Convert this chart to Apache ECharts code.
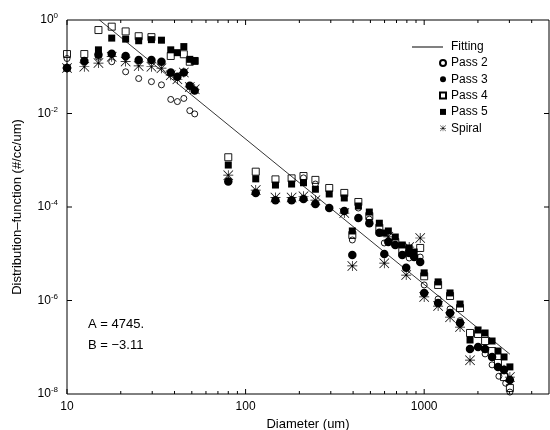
<!DOCTYPE html>
<html>
<head>
<meta charset="utf-8">
<script src="https://cdn.jsdelivr.net/npm/echarts@6/dist/echarts.min.js"></script>
<style>
  html, body { margin: 0; padding: 0; background: #fff; }
  #chart { width: 550px; height: 430px; }
</style>
</head>
<body>
<div id="chart"></div>
<script>
// axis ranges
var xMin = 10, xMax = 5000;
var yMin = 1e-8, yMax = 1;

// tick positions
var xMajorTicks = [10, 100, 1000];
var xMinorTicks = [20, 30, 40, 50, 60, 70, 80, 90, 200, 300, 400, 500, 600, 700, 800, 900, 2000, 3000, 4000];
var yMajorTicks = [1e-2, 1e-4, 1e-6];

// fitting line (A = 4745, B = -3.11), end points
var fitX = [15.2, 3020];
var fitY = [1.0, 7.1e-8];

// measured points
var pass2X = [10, 15, 17.8, 21.3, 25.2, 29.7, 33.8, 38.1, 41.5, 45.1, 48.7, 51.9,
  211, 246, 396, 428, 493, 598, 754, 824, 950, 1000, 1197, 1396, 1588, 2193, 2400, 2620, 2860, 3020];
var pass2Y = [0.15, 0.16, 0.128, 0.078, 0.056, 0.048, 0.041, 0.020, 0.018, 0.021, 0.0115, 0.0098,
  4.2e-4, 3.1e-4, 1.97e-5, 9.5e-5, 5.5e-5, 1.7e-5, 9.4e-6, 8.1e-6, 8.5e-6, 2.15e-6, 1.08e-6, 6.6e-7, 3.7e-7, 7.2e-8, 4.2e-8, 2.4e-8, 1.7e-8, 1.1e-8];

var pass3X = [10, 12.5, 15, 17.8, 21.3, 25.2, 29.7, 33.8, 38.1, 41.5, 45.1, 48.7, 51.9,
  80, 114, 147, 181, 211, 246, 294, 357, 396, 428, 493, 561, 598, 630, 689, 754, 793, 824, 879, 950,
  1000, 1197, 1396, 1588, 1806, 2003, 2193, 2400, 2590, 2800, 3020];
var pass3Y = [0.094, 0.133, 0.18, 0.19, 0.17, 0.14, 0.14, 0.128, 0.075, 0.061, 0.075, 0.039, 0.031,
  3.5e-4, 2.0e-4, 1.4e-4, 1.4e-4, 1.48e-4, 1.16e-4, 9.5e-5, 8.2e-5, 9.4e-6, 5.8e-5, 4.5e-5, 2.8e-5, 9.9e-6, 1.78e-5, 1.54e-5, 9.4e-6, 5.0e-6, 1.04e-5, 8.5e-6, 6.7e-6,
  1.45e-6, 8.8e-7, 5.4e-7, 3.3e-7, 9.2e-8, 1.01e-7, 9.2e-8, 6.2e-8, 3.8e-8, 3.3e-8, 2.0e-8];

var pass4X = [10, 12.5, 15, 17.8, 21.3, 25.2, 29.7, 38.1, 45.1, 48.7, 51.9,
  80, 114, 147, 181, 211, 246, 294, 357, 396, 428, 493, 561, 689, 754, 950,
  1000, 1197, 1396, 1588, 1806, 2003, 2193, 2400, 2590, 2800, 3020];
var pass4Y = [0.187, 0.187, 0.61, 0.72, 0.57, 0.45, 0.43, 0.17, 0.185, 0.128, 0.133,
  1.16e-3, 5.7e-4, 3.9e-4, 4.1e-4, 4.6e-4, 3.8e-4, 2.55e-4, 2.0e-4, 2.52e-5, 1.28e-4, 6.4e-5, 3.6e-5, 1.78e-5, 1.2e-5, 1.33e-5,
  3.3e-6, 2.15e-6, 1.25e-6, 6.9e-7, 2.02e-7, 1.92e-7, 1.36e-7, 8.3e-8, 4.6e-8, 2.3e-8, 1.34e-8];

var pass5X = [10, 15, 17.8, 21.3, 25.2, 29.7, 33.8, 38.1, 41.5, 45.1, 48.7, 51.9,
  80, 114, 147, 181, 211, 246, 294, 357, 396, 428, 493, 561, 598, 630, 689, 754, 824, 879,
  1000, 1197, 1396, 1588, 1806, 2003, 2193, 2400, 2590, 2800, 3020];
var pass5Y = [0.094, 0.23, 0.41, 0.39, 0.36, 0.38, 0.37, 0.23, 0.2, 0.27, 0.144, 0.135,
  7.9e-4, 4.0e-4, 2.95e-4, 3.1e-4, 3.3e-4, 2.4e-4, 1.9e-4, 1.56e-4, 3.07e-5, 1.05e-4, 7.8e-5, 4.5e-5, 2.78e-5, 3.07e-5, 2.28e-5, 1.54e-5, 1.33e-5, 1.09e-5,
  3.9e-6, 2.5e-6, 1.45e-6, 8.4e-7, 1.43e-7, 2.34e-7, 2.02e-7, 1.36e-7, 8.3e-8, 6.2e-8, 3.8e-8];

var spiralX = [10, 12.5, 15, 17.8, 21.3, 25.2, 29.7, 33.8, 38.1, 41.5, 45.1, 48.7, 51.9,
  80, 114, 147, 181, 211, 246, 357, 396, 598, 630, 793, 824, 950,
  1000, 1197, 1396, 1588, 1806, 2800, 3020];
var spiralY = [0.094, 0.1, 0.12, 0.164, 0.13, 0.104, 0.1, 0.093, 0.066, 0.054, 0.075, 0.037, 0.033,
  4.8e-4, 2.3e-4, 1.6e-4, 1.6e-4, 1.7e-4, 1.4e-4, 7.4e-5, 5.5e-6, 6.3e-6, 2.3e-5, 3.5e-6, 1.39e-5, 2.17e-5,
  1.19e-6, 7.6e-7, 4.4e-7, 2.7e-7, 5.3e-8, 3.3e-8, 2.3e-8];

var font = '"Liberation Sans", Arial, Helvetica, sans-serif';
var asterisk = 'path://M0 9.3H20V10.7H0Z M9.3 0H10.7V20H9.3Z M1 0L20 19L19 20L0 1Z M19 0L20 1L1 20L0 19Z';

function zip(xs, ys) {
  var out = [];
  for (var i = 0; i < xs.length; i++) out.push([xs[i], ys[i]]);
  return out;
}

function scatter(name, xs, ys, symbol, size, filled) {
  return {
    name: name,
    type: 'scatter',
    data: zip(xs, ys),
    symbol: symbol,
    symbolSize: size,
    itemStyle: filled
      ? { color: '#000', opacity: 1 }
      : { color: 'rgba(255,255,255,0)', borderColor: '#000', borderWidth: 0.9, opacity: 1 },
    emphasis: { disabled: true }
  };
}

// ticks drawn inward on both sides of the box
function xTicks(vals, len) {
  return {
    type: 'custom', silent: true, z: 1,
    data: vals.map(function (v) { return [v, yMin]; }),
    renderItem: function (params, api) {
      var b = api.coord([api.value(0), yMin]);
      var t = api.coord([api.value(0), yMax]);
      var st = { stroke: '#000', lineWidth: 1 };
      return { type: 'group', children: [
        { type: 'line', shape: { x1: b[0], y1: b[1], x2: b[0], y2: b[1] - len }, style: st },
        { type: 'line', shape: { x1: t[0], y1: t[1], x2: t[0], y2: t[1] + len }, style: st }
      ] };
    }
  };
}
function yTicks(vals, len) {
  return {
    type: 'custom', silent: true, z: 1,
    data: vals.map(function (v) { return [xMin, v]; }),
    renderItem: function (params, api) {
      var l = api.coord([xMin, api.value(1)]);
      var r = api.coord([xMax, api.value(1)]);
      var st = { stroke: '#000', lineWidth: 1 };
      return { type: 'group', children: [
        { type: 'line', shape: { x1: l[0], y1: l[1], x2: l[0] + len, y2: l[1] }, style: st },
        { type: 'line', shape: { x1: r[0], y1: r[1], x2: r[0] - len, y2: r[1] }, style: st }
      ] };
    }
  };
}

var chart = echarts.init(document.getElementById('chart'));
chart.setOption({
  animation: false,
  backgroundColor: '#fff',
  textStyle: { fontFamily: font },
  grid: {
    left: 67, top: 20, right: 1, bottom: 36, outerBoundsMode: 'none', containLabel: false,
    show: true, borderColor: '#000', borderWidth: 1
  },
  xAxis: {
    type: 'log', logBase: 10, min: xMin, max: xMax,
    name: 'Diameter (um)', nameLocation: 'middle', nameGap: 21,
    nameTextStyle: { color: '#000', fontSize: 13, fontFamily: font },
    axisLine: { show: false }, axisTick: { show: false }, splitLine: { show: false },
    axisLabel: {
      color: '#000', fontSize: 12, fontFamily: font, margin: 7,
      formatter: function (v) {
        var e = Math.log10(v);
        return Math.abs(e - Math.round(e)) < 1e-6 ? String(Math.round(v)) : '';
      }
    }
  },
  yAxis: {
    type: 'log', logBase: 10, min: yMin, max: yMax,
    name: 'Distribution\u2013function (#/cc/um)', nameLocation: 'middle', nameGap: 43,
    nameTextStyle: { color: '#000', fontSize: 13, fontFamily: font },
    axisLine: { show: false }, axisTick: { show: false }, splitLine: { show: false },
    axisLabel: {
      color: '#000', fontSize: 12, fontFamily: font, margin: 9,
      showMinLabel: true, showMaxLabel: true,
      formatter: function (v) {
        var e = Math.round(Math.log10(v));
        if (e % 2 !== 0) return '';
        return '10{s|' + (e === 0 ? '0' : '-' + (-e)) + '}';
      },
      rich: { s: { fontSize: 8, fontFamily: font, color: '#000', padding: [0, 0, 8, 0] } }
    }
  },
  legend: [
    {
      data: [{ name: 'Fitting', icon: 'rect' }], left: 412, top: 41, padding: 0,
      itemWidth: 31, itemHeight: 1,
      textStyle: { color: '#000', fontSize: 12, fontFamily: font, padding: [0, 0, 0, 3] },
      selectedMode: false
    },
    {
      data: ['Pass 2', 'Pass 3', 'Pass 4', 'Pass 5', 'Spiral'], orient: 'vertical',
      left: 439, top: 56, padding: 0, itemWidth: 6, itemHeight: 6, itemGap: 2.3,
      textStyle: { color: '#000', fontSize: 12, fontFamily: font, lineHeight: 14 },
      selectedMode: false
    }
  ],
  graphic: [
    { type: 'text', left: 88, top: 318, style: { text: 'A = 4745.', font: '13px ' + font, fill: '#000' } },
    { type: 'text', left: 88, top: 339, style: { text: 'B = \u22123.11', font: '13px ' + font, fill: '#000' } }
  ],
  series: [
    xTicks(xMajorTicks, 5),
    xTicks(xMinorTicks, 3),
    yTicks(yMajorTicks, 5),
    {
      name: 'Fitting', type: 'line', data: zip(fitX, fitY), symbol: 'none', clip: true,
      color: '#000', itemStyle: { color: '#000' },
      lineStyle: { color: '#000', width: 0.8 }, silent: true
    },
    scatter('Pass 2', pass2X, pass2Y, 'circle', 6, false),
    scatter('Pass 3', pass3X, pass3Y, 'circle', 8.5, true),
    scatter('Pass 4', pass4X, pass4Y, 'rect', 7, false),
    scatter('Pass 5', pass5X, pass5Y, 'rect', 7, true),
    scatter('Spiral', spiralX, spiralY, asterisk, 10, true)
  ]
});
</script>
</body>
</html>
